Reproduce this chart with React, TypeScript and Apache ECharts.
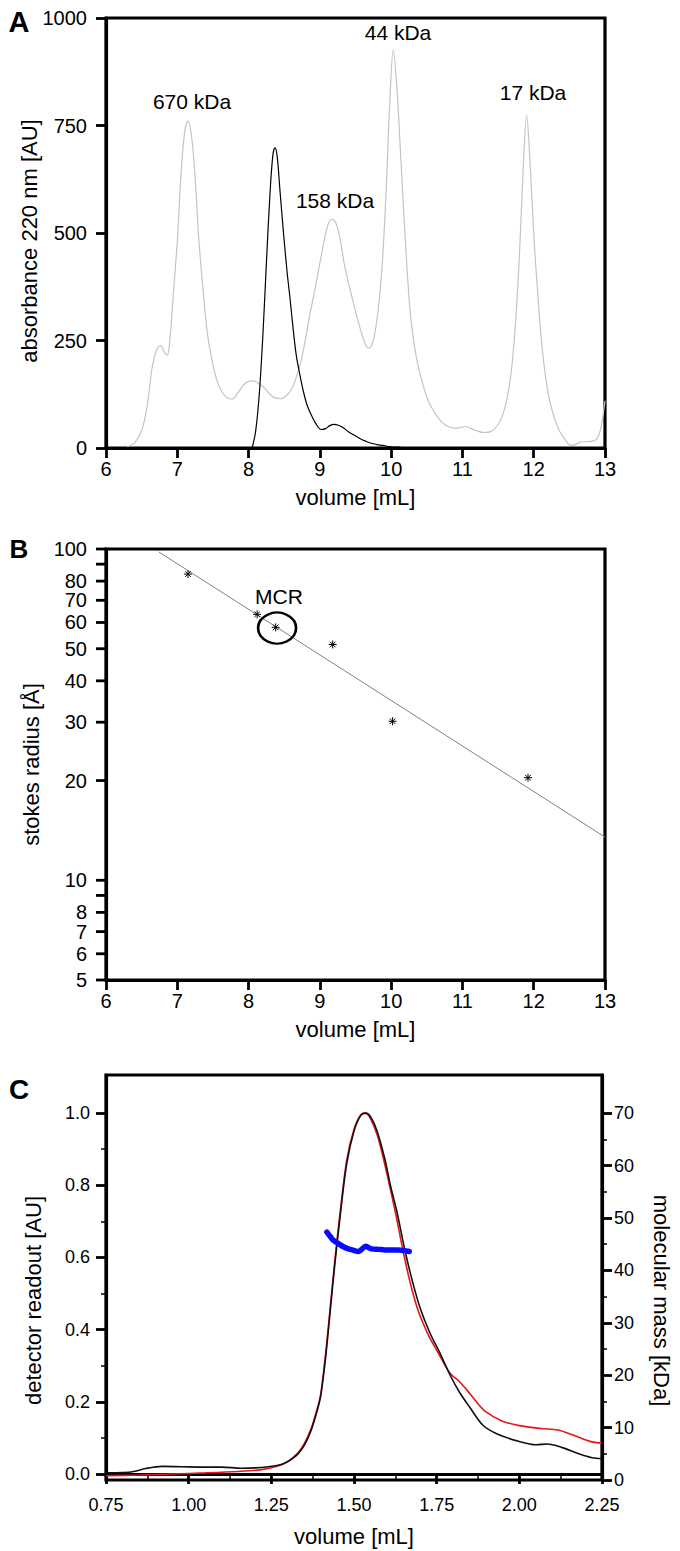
import React, { useEffect, useRef } from 'react';
import * as echarts from 'echarts';

const FONT = '"Liberation Sans", Arial, Helvetica, sans-serif';

// ---------- Panel A: elution profiles ----------
const standardsCurve: [number, number][] = [
  [6.3, 3], [6.4, 12], [6.5, 40], [6.58, 100], [6.65, 190], [6.72, 232], [6.77, 238], [6.82, 222],
  [6.86, 216], [6.9, 260], [6.95, 370], [7.0, 480], [7.05, 630], [7.1, 730], [7.15, 760], [7.2, 725],
  [7.25, 630], [7.3, 490], [7.36, 370], [7.42, 270], [7.48, 210], [7.55, 160], [7.62, 132], [7.7, 117],
  [7.77, 114], [7.85, 128], [7.92, 145], [8.0, 155], [8.06, 156], [8.14, 150], [8.22, 140], [8.3, 125],
  [8.38, 116], [8.46, 115], [8.55, 125], [8.62, 142], [8.68, 170], [8.74, 205], [8.8, 255], [8.86, 310],
  [8.92, 360], [9.0, 430], [9.07, 490], [9.12, 522], [9.17, 532], [9.22, 525], [9.28, 490], [9.34, 430],
  [9.4, 385], [9.46, 345], [9.52, 305], [9.58, 270], [9.63, 245], [9.68, 232], [9.73, 240], [9.78, 275],
  [9.83, 340], [9.88, 440], [9.93, 600], [9.98, 800], [10.03, 926], [10.08, 840], [10.14, 660], [10.2, 480],
  [10.26, 330], [10.32, 245], [10.38, 190], [10.45, 145], [10.52, 110], [10.6, 85], [10.7, 62], [10.8, 50],
  [10.9, 46], [10.98, 48], [11.05, 50], [11.12, 45], [11.2, 40], [11.3, 36], [11.4, 38], [11.48, 50],
  [11.55, 70], [11.62, 110], [11.68, 170], [11.74, 280], [11.8, 450], [11.85, 640], [11.9, 774], [11.95, 660],
  [12.0, 500], [12.06, 350], [12.12, 230], [12.2, 130], [12.28, 75], [12.36, 40], [12.45, 18], [12.52, 6],
  [12.58, 8], [12.66, 14], [12.78, 15], [12.88, 20], [12.94, 45], [12.98, 85], [13.0, 110],
];

const mcrCurve: [number, number][] = [
  [8.05, 0], [8.1, 40], [8.15, 125], [8.2, 260], [8.25, 430], [8.3, 590], [8.34, 680], [8.37, 698],
  [8.4, 680], [8.44, 600], [8.49, 500], [8.54, 410], [8.58, 350], [8.63, 270], [8.67, 215], [8.72, 170],
  [8.76, 138], [8.82, 100], [8.88, 77], [8.95, 55], [9.02, 43], [9.08, 45], [9.14, 52], [9.2, 55],
  [9.26, 53], [9.32, 48], [9.4, 38], [9.48, 30], [9.56, 22], [9.64, 16], [9.72, 11], [9.8, 8],
  [9.88, 6], [9.95, 4], [10.02, 2], [10.1, 2], [10.15, 1],
];

const standardNames = ['670 kDa', '158 kDa', '44 kDa', '17 kDa'];

// ---------- Panel B: calibration ----------
const stokesPoints: [number, number][] = [
  [7.15, 84], [8.12, 63.5], [8.38, 58], [9.18, 51.5], [10.02, 30.2], [11.92, 20.4],
];
const fitLine: [number, number][] = [[6.74, 98], [13, 13.5]];
const mcrPoint: [number, number] = [8.4, 57.7];
const bTickValues = [5, 6, 7, 8, 9, 10, 20, 30, 40, 50, 60, 70, 80, 90, 100];
const bTickLabels = ['5', '6', '7', '8', '', '10', '20', '30', '40', '50', '60', '70', '80', '', '100'];

// ---------- Panel C: SEC-MALS ----------
const detectorBlack: [number, number][] = [
  [0.75, 0.003], [0.8, 0.004], [0.83, 0.006], [0.87, 0.015], [0.92, 0.021], [0.98, 0.02], [1.05, 0.019],
  [1.1, 0.019], [1.16, 0.016], [1.2, 0.017], [1.24, 0.02], [1.27, 0.024], [1.29, 0.03], [1.31, 0.04],
  [1.33, 0.055], [1.35, 0.08], [1.37, 0.12], [1.39, 0.18], [1.4, 0.22], [1.415, 0.33], [1.43, 0.47],
  [1.443, 0.59], [1.46, 0.73], [1.478, 0.86], [1.5, 0.95], [1.52, 0.993], [1.535, 1.0], [1.55, 0.99],
  [1.57, 0.95], [1.594, 0.87], [1.61, 0.8], [1.629, 0.73], [1.654, 0.62], [1.675, 0.54], [1.7, 0.46],
  [1.73, 0.39], [1.76, 0.335], [1.79, 0.275], [1.82, 0.225], [1.85, 0.185], [1.89, 0.135], [1.935, 0.11],
  [2.0, 0.09], [2.05, 0.081], [2.085, 0.083], [2.13, 0.073], [2.18, 0.056], [2.22, 0.045], [2.25, 0.042],
];
const detectorRed: [number, number][] = [
  [0.75, -0.005], [0.85, -0.003], [0.95, 0.0], [1.05, 0.003], [1.15, 0.007], [1.22, 0.012], [1.27, 0.022],
  [1.3, 0.035], [1.33, 0.058], [1.35, 0.085], [1.37, 0.125], [1.39, 0.185], [1.4, 0.225], [1.415, 0.34],
  [1.43, 0.48], [1.443, 0.6], [1.46, 0.74], [1.478, 0.87], [1.5, 0.955], [1.52, 0.995], [1.535, 1.0],
  [1.55, 0.985], [1.57, 0.94], [1.59, 0.87], [1.624, 0.73], [1.648, 0.62], [1.67, 0.53], [1.695, 0.45],
  [1.725, 0.385], [1.752, 0.34], [1.79, 0.28], [1.82, 0.255], [1.843, 0.231], [1.87, 0.2], [1.895, 0.175],
  [1.947, 0.147], [2.0, 0.134], [2.065, 0.126], [2.117, 0.122], [2.168, 0.106], [2.22, 0.089], [2.25, 0.086],
];
const molMass: [number, number][] = [
  [1.418, 47.3], [1.43, 46.3], [1.438, 45.7], [1.453, 45.1], [1.468, 44.5], [1.483, 44.1], [1.5, 43.8],
  [1.513, 43.6], [1.523, 44.0], [1.535, 44.6], [1.545, 44.3], [1.553, 44.1], [1.575, 44.0], [1.594, 43.9],
  [1.615, 43.9], [1.634, 43.9], [1.65, 43.8], [1.667, 43.6],
];
const cLeftMajor = [0, 0.2, 0.4, 0.6, 0.8, 1.0];
const cLeftMinor = [0.1, 0.3, 0.5, 0.7, 0.9];
const cRightMajor = [0, 10, 20, 30, 40, 50, 60, 70];
const cRightMinor = [5, 15, 25, 35, 45, 55, 65];

const AXIS_LINE = { show: true, lineStyle: { color: '#000', width: 3.2 } };
const tick = (len: number) => ({ show: true, length: len, lineStyle: { color: '#000', width: 2.8 } });
const lbl = (size: number, margin: number) => ({ fontSize: size, color: '#000', fontFamily: FONT, margin });
const nameStyle = { fontSize: 22, color: '#000', fontFamily: FONT };

function txt(text: string, x: number, y: number, size: number, bold = false) {
  return {
    type: 'text',
    x,
    y,
    style: {
      text,
      fontSize: size,
      fontFamily: FONT,
      fontWeight: bold ? 'bold' : 'normal',
      fill: '#000',
      align: 'center',
      verticalAlign: 'middle',
      textAlign: 'center',
      textVerticalAlign: 'middle',
    },
  };
}

export default function App() {
  const ref = useRef<HTMLDivElement>(null);
  useEffect(() => {
    if (!ref.current) return;
    const chart = echarts.init(ref.current, undefined, { renderer: 'svg' });
    const grid = (top: number, height: number) => ({
      left: 106, top, width: 499, height, show: true, borderColor: '#000', borderWidth: 3.2, containLabel: false,
    });
    const option: any = {
      animation: false,
      backgroundColor: '#fff',
      grid: [grid(18, 430), grid(549, 431), grid(1075, 405)],
      xAxis: [
        {
          gridIndex: 0, type: 'value', min: 6, max: 13, interval: 1,
          axisLine: AXIS_LINE, axisTick: tick(10), axisLabel: lbl(20, 11), splitLine: { show: false },
          name: 'volume [mL]', nameLocation: 'middle', nameGap: 38, nameTextStyle: nameStyle, nameMoveOverlap: false,
        },
        {
          gridIndex: 1, type: 'value', min: 6, max: 13, interval: 1,
          axisLine: AXIS_LINE, axisTick: tick(10), axisLabel: lbl(20, 11), splitLine: { show: false },
          name: 'volume [mL]', nameLocation: 'middle', nameGap: 38, nameTextStyle: nameStyle, nameMoveOverlap: false,
        },
        {
          gridIndex: 2, type: 'value', min: 0.75, max: 2.25, interval: 0.25,
          axisLine: AXIS_LINE, axisTick: tick(10),
          minorTick: { show: true, splitNumber: 2, length: 5, lineStyle: { color: '#000', width: 1.5 } },
          axisLabel: { ...lbl(18, 16), formatter: (v: number) => v.toFixed(2) },
          splitLine: { show: false }, minorSplitLine: { show: false },
          name: 'volume [mL]', nameLocation: 'middle', nameGap: 45, nameTextStyle: nameStyle, nameMoveOverlap: false,
        },
      ],
      yAxis: [
        {
          gridIndex: 0, type: 'value', min: 0, max: 1000, interval: 250,
          axisLine: AXIS_LINE, axisTick: tick(10),
          axisLabel: { ...lbl(20, 19), formatter: (v: number) => String(v) },
          splitLine: { show: false },
          name: 'absorbance 220 nm [AU]', nameLocation: 'middle', nameGap: 66,
          nameTextStyle: { ...nameStyle, padding: [0, 16, 0, 0] },
          nameMoveOverlap: false,
        },
        {
          gridIndex: 1, type: 'log', logBase: 10, min: 5, max: 100,
          axisLine: AXIS_LINE, axisTick: { show: false }, axisLabel: { show: false }, splitLine: { show: false },
          minorTick: { show: false },
          name: 'stokes radius [Å]', nameLocation: 'middle', nameGap: 64, nameTextStyle: nameStyle,
          nameMoveOverlap: false,
        },
        {
          gridIndex: 2, type: 'value', min: -0.0167, max: 1.1056, position: 'left',
          axisLine: AXIS_LINE,
          axisTick: { ...tick(10), customValues: cLeftMajor },
          axisLabel: { ...lbl(18, 16), customValues: cLeftMajor, formatter: (v: number) => v.toFixed(1) },
          splitLine: { show: false },
          name: 'detector readout [AU]', nameLocation: 'middle', nameGap: 62,
          nameTextStyle: { ...nameStyle, padding: [0, 46, 0, 0] },
          nameMoveOverlap: false,
        },
        {
          gridIndex: 2, type: 'value', min: 0, max: 77.27, position: 'right',
          axisLine: AXIS_LINE,
          axisTick: { ...tick(10), customValues: cRightMajor },
          axisLabel: { ...lbl(18, 12), customValues: cRightMajor, formatter: (v: number) => String(Math.round(v)) },
          splitLine: { show: false },
          name: 'molecular mass [kDa]', nameLocation: 'middle', nameGap: 48, nameRotate: -90,
          nameTextStyle: { ...nameStyle, padding: [0, 0, 0, 46] },
          nameMoveOverlap: false,
        },
        {
          gridIndex: 2, type: 'value', min: -0.0167, max: 1.1056, position: 'left',
          axisLine: { show: false },
          axisTick: { show: true, length: 5, customValues: cLeftMinor, lineStyle: { color: '#000', width: 1.5 } },
          axisLabel: { show: false }, splitLine: { show: false },
        },
        {
          gridIndex: 2, type: 'value', min: 0, max: 77.27, position: 'right',
          axisLine: { show: false },
          axisTick: { show: true, length: 5, customValues: cRightMinor, lineStyle: { color: '#000', width: 1.5 } },
          axisLabel: { show: false }, splitLine: { show: false },
        },
      ],
      series: [
        {
          type: 'line', xAxisIndex: 0, yAxisIndex: 0, data: standardsCurve, showSymbol: false, smooth: 0.35,
          lineStyle: { color: '#c4c4c4', width: 1.2 }, z: 2,
        },
        {
          type: 'line', xAxisIndex: 0, yAxisIndex: 0, data: mcrCurve, showSymbol: false, smooth: 0.35,
          lineStyle: { color: '#000', width: 1.2 }, z: 3,
        },
        {
          type: 'line', xAxisIndex: 1, yAxisIndex: 1, data: fitLine, showSymbol: false,
          lineStyle: { color: '#808080', width: 1 }, z: 2,
        },
        {
          type: 'scatter', xAxisIndex: 1, yAxisIndex: 1, data: stokesPoints,
          symbol: 'path://M4 0L4 8M0 4L8 4M1.2 1.2L6.8 6.8M6.8 1.2L1.2 6.8', symbolSize: 8,
          itemStyle: { color: 'rgba(0,0,0,0)', borderColor: '#000', borderWidth: 1, opacity: 1 }, z: 3,
        },
        {
          type: 'scatter', xAxisIndex: 1, yAxisIndex: 1, data: [mcrPoint], symbol: 'circle', symbolSize: [38, 31],
          itemStyle: { color: 'rgba(0,0,0,0)', borderColor: '#000', borderWidth: 2.4, opacity: 1 }, z: 4,
        },
        {
          type: 'custom', xAxisIndex: 1, yAxisIndex: 1, clip: false, silent: true, z: 5,
          data: bTickValues.map((v) => [6, v]),
          renderItem: (params: any, api: any) => {
            const p = api.coord([6, api.value(1)]);
            const label = bTickLabels[params.dataIndex];
            const children: any[] = [
              { type: 'line', shape: { x1: p[0] - 10, y1: p[1], x2: p[0], y2: p[1] }, style: { stroke: '#000', lineWidth: 2.8 } },
            ];
            if (label) {
              children.push({
                type: 'text', x: p[0] - 19, y: p[1],
                style: { text: label, fontSize: 20, fontFamily: FONT, fill: '#000', align: 'right', verticalAlign: 'middle' },
              });
            }
            return { type: 'group', children };
          },
        },
        {
          type: 'line', xAxisIndex: 2, yAxisIndex: 2, data: detectorRed, showSymbol: false, smooth: 0.3,
          lineStyle: { color: '#e8141a', width: 1.6 }, z: 2,
        },
        {
          type: 'line', xAxisIndex: 2, yAxisIndex: 2, data: detectorBlack, showSymbol: false, smooth: 0.3,
          lineStyle: { color: '#111', width: 1.6 }, z: 3,
        },
        {
          type: 'line', xAxisIndex: 2, yAxisIndex: 3, data: molMass, showSymbol: false, smooth: 0.3,
          lineStyle: { color: '#0a0aff', width: 5.5, cap: 'round' }, z: 4,
        },
      ],
      graphic: [
        txt('A', 19, 22, 29, true),
        txt('B', 19, 549, 26, true),
        txt('C', 19, 1089, 28, true),
        txt(standardNames[0], 192, 101, 21),
        txt(standardNames[1], 335, 200, 21),
        txt(standardNames[2], 398, 32, 21),
        txt(standardNames[3], 533, 92, 21),
        txt('MCR', 279, 596, 21),
      ],
    };
    chart.setOption(option);
    return () => chart.dispose();
  }, []);
  return (
    <div
      ref={ref}
      style={{ position: 'absolute', left: 0, top: 0, width: 680, height: 1551, background: '#fff' }}
    />
  );
}
